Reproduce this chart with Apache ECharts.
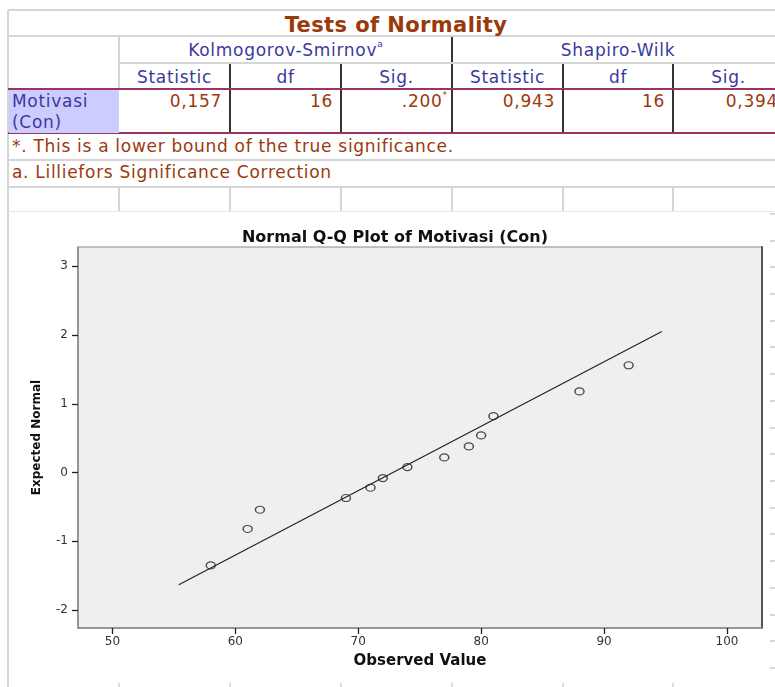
<!DOCTYPE html>
<html>
<head>
<meta charset="utf-8">
<script src="https://cdn.jsdelivr.net/npm/echarts@6/dist/echarts.min.js"></script>
<style>
html,body{margin:0;padding:0;background:#fff;width:775px;height:687px;overflow:hidden;}
#page{position:relative;width:775px;height:687px;overflow:hidden;font-family:"DejaVu Sans",sans-serif;}
.ln{position:absolute;}
.t{position:absolute;white-space:nowrap;font-size:17px;letter-spacing:0.7px;line-height:18px;height:18px;}
.c{text-align:center;}
.r{text-align:right;}
.blue{color:#3a3a9e;}
.brown{color:#9a3a0c;}
sup{font-size:9px;line-height:0;vertical-align:9px;letter-spacing:0;}
#chart{position:absolute;left:0;top:212px;width:775px;height:475px;}
</style>
</head>
<body>
<div id="page">
  <div id="chart"></div>
</div>
<script>
// ---------------- data ----------------
const tableTitle = "Tests of Normality";
const groupHeaders = ["Kolmogorov-Smirnov", "Shapiro-Wilk"];
const columnHeaders = ["Statistic", "df", "Sig.", "Statistic", "df", "Sig."];
const rowLabel = ["Motivasi", "(Con)"];
const rowValues = ["0,157", "16", ".200", "0,943", "16", "0,394"];
const footnotes = ["*. This is a lower bound of the true significance.", "a. Lilliefors Significance Correction"];

const chartTitle = "Normal Q-Q Plot of Motivasi (Con)";
const observed = [58, 61, 62, 69, 71, 72, 74, 77, 79, 80, 81, 88, 92];
const expected = [-1.35, -0.82, -0.54, -0.37, -0.22, -0.08, 0.08, 0.22, 0.38, 0.54, 0.82, 1.18, 1.56];
const refLineX = [55.4, 94.7];
const refLineY = [-1.63, 2.05];
const xTicks = [50, 60, 70, 80, 90, 100];
const yTicks = [-2, -1, 0, 1, 2, 3];

// ---------------- table (HTML) ----------------
const page = document.getElementById('page');
function box(x, y, w, h, color) {
  const d = document.createElement('div');
  d.className = 'ln';
  d.style.left = x + 'px'; d.style.top = y + 'px';
  d.style.width = w + 'px'; d.style.height = h + 'px';
  d.style.background = color;
  page.insertBefore(d, page.firstChild);
  return d;
}
function text(str, x, yc, w, cls, html) {
  const d = document.createElement('div');
  d.className = 't ' + cls;
  d.style.left = x + 'px';
  d.style.top = (yc - 9) + 'px';
  if (w) d.style.width = w + 'px';
  if (html) d.innerHTML = str; else d.textContent = str;
  page.appendChild(d);
  return d;
}
const colX = [8, 119, 230, 341, 452, 563, 673, 786];
const light = '#d5d5d5', dark = '#333', mag = '#9a3464';

// lavender label cell
box(9, 90, 110, 43, '#ccccff');
// horizontal light lines
box(8, 9, 767, 2, light);
box(8, 35, 767, 2, light);
box(119, 62, 656, 2, light);
box(8, 159, 767, 2, light);
box(8, 186, 767, 2, light);
box(8, 211, 767, 1, '#e8e8e8');
// magenta rules
box(8, 88, 767, 2, mag);
box(8, 132, 767, 2, mag);
// left border
box(7, 10, 2, 677, light);
// light vertical in header
box(118, 36, 2, 53, light);
// dark verticals
box(229, 63, 2, 70, dark);
box(340, 63, 2, 70, dark);
box(451, 36, 2, 97, dark);
box(562, 63, 2, 70, dark);
box(672, 63, 2, 70, dark);
// empty row verticals and bottom stubs
for (let i = 1; i < 7; i++) {
  box(colX[i] - 1, 187, 2, 25, light);
  box(colX[i] - 1, 683, 2, 4, '#dddddd');
}
// right edge dashes
for (let y = 213; y < 687; y += 26.7) box(770, Math.round(y), 5, 2, '#d8d8d8');

// texts
const tt = text(tableTitle, 196, 23, 400, 'c brown');
tt.style.fontWeight = 'bold'; tt.style.fontSize = '21px'; tt.style.lineHeight = '22px';
tt.style.letterSpacing = '0.4px';
text(groupHeaders[0] + '<sup>a</sup>', colX[1], 50, colX[4] - colX[1], 'c blue', true);
text(groupHeaders[1], colX[4], 50, 784 - colX[4], 'c blue');
columnHeaders.forEach((h, i) => text(h, colX[i + 1], 77, (i === 5 ? 784 : colX[i + 2]) - colX[i + 1], 'c blue'));
text(rowLabel[0], 12, 101, 0, 'blue');
text(rowLabel[1], 12, 122, 0, 'blue');
rowValues.forEach((v, i) => {
  const html = (i === 2) ? v + '<sup>*</sup>' : v;
  const right = colX[i + 2] - 8 - (i === 2 ? -3 : 0);
  text(html, right - 120, 101, 120, 'r brown', true);
});
text(footnotes[0], 12, 146, 0, 'brown');
text(footnotes[1], 12, 172, 0, 'brown');

// ---------------- chart (ECharts) ----------------
const chart = echarts.init(document.getElementById('chart'), null, {renderer: 'canvas'});
const font = 'DejaVu Sans';
chart.setOption({
  animation: false,
  backgroundColor: 'transparent',
  textStyle: {fontFamily: font},
  title: {
    text: chartTitle,
    left: 390, top: 13, textAlign: 'center',
    textStyle: {fontFamily: font, fontSize: 16, fontWeight: 'bold', color: '#111'}
  },
  grid: {
    left: 78, right: 13, top: 35, bottom: 59,
    show: true, backgroundColor: '#efefef', borderColor: '#8a8a8a', borderWidth: 1
  },
  xAxis: {
    type: 'value', min: 47.2, max: 102.85,
    splitLine: {show: false},
    axisLine: {show: true, onZero: false, lineStyle: {color: '#888', width: 1.5}},
    axisTick: {show: true, customValues: xTicks, length: 6, lineStyle: {color: '#222', width: 1.3}},
    axisLabel: {customValues: xTicks, color: '#333', fontSize: 12, margin: 8, fontFamily: font},
    name: 'Observed Value', nameLocation: 'middle', nameGap: 26,
    nameTextStyle: {fontFamily: font, fontSize: 15, fontWeight: 'bold', color: '#111'}
  },
  yAxis: [{
    type: 'value', min: -2.26, max: 3.28,
    splitLine: {show: false},
    axisLine: {show: true, onZero: false, lineStyle: {color: '#888', width: 1.5}},
    axisTick: {show: true, customValues: yTicks, length: 6, lineStyle: {color: '#222', width: 1.3}},
    axisLabel: {customValues: yTicks, color: '#333', fontSize: 12, margin: 10, fontFamily: font},
    name: 'Expected Normal', nameLocation: 'middle', nameGap: 35,
    nameTextStyle: {fontFamily: font, fontSize: 12, fontWeight: 'bold', color: '#111'}
  }, {
    type: 'value', min: -2.26, max: 3.28, position: 'right',
    splitLine: {show: false}, axisTick: {show: false}, axisLabel: {show: false},
    axisLine: {show: true, onZero: false, lineStyle: {color: '#555', width: 2}}
  }],
  series: [{
    type: 'line',
    data: refLineX.map((x, i) => [x, refLineY[i]]),
    showSymbol: false, symbol: 'none',
    lineStyle: {color: '#222', width: 1.2},
    z: 2
  }, {
    type: 'scatter',
    data: observed.map((x, i) => [x, expected[i]]),
    symbol: 'circle', symbolSize: [9, 7],
    itemStyle: {color: 'rgba(0,0,0,0)', borderColor: '#222', borderWidth: 1.3},
    z: 3
  }]
});
</script>
</body>
</html>
